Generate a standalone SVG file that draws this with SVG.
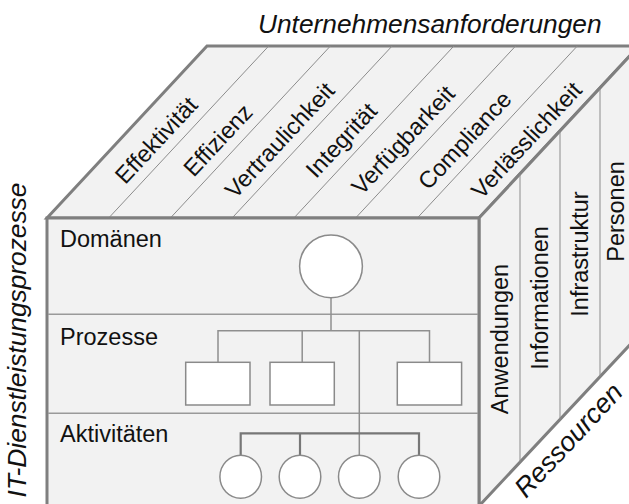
<svg xmlns="http://www.w3.org/2000/svg" width="629" height="504" viewBox="0 0 629 504">
  <style>
    .face { fill: #f2f2f2; stroke: #7f7f7f; stroke-width: 3; stroke-linejoin: miter; }
    .sep { fill: none; stroke: #8c8c8c; stroke-width: 1; }
    .div { fill: none; stroke: #9a9a9a; stroke-width: 1.5; }
    .node { fill: #ffffff; stroke: #8a8a8a; stroke-width: 1.5; }
    .link { fill: none; stroke: #8f8f8f; stroke-width: 1.5; }
    .link-strong { fill: none; stroke: #777777; stroke-width: 2.2; }
    text { font-family: "Liberation Sans", Arial, sans-serif; fill: #111111; }
    .lbl { font-size: 23.5px; }
    .axis { font-size: 26.3px; font-style: italic; }
  </style>

  <!-- axis captions -->
  <text class="axis" x="258" y="32.5">Unternehmensanforderungen</text>
  <text class="axis" text-anchor="middle" transform="translate(26,340) rotate(-90)">IT-Dienstleistungsprozesse</text>
  <text class="axis" style="font-size:27px" transform="translate(526,499) rotate(-47)">Ressourcen</text>

  <!-- top face: business requirements -->
  <g id="top-face">
    <polygon class="face" points="47,218 207,46 639,46 479,218"/>
    <g class="sep">
      <line x1="268.7" y1="46" x2="108.7" y2="218"/>
      <line x1="330.4" y1="46" x2="170.4" y2="218"/>
      <line x1="392.1" y1="46" x2="232.1" y2="218"/>
      <line x1="453.9" y1="46" x2="293.9" y2="218"/>
      <line x1="515.6" y1="46" x2="355.6" y2="218"/>
      <line x1="577.3" y1="46" x2="417.3" y2="218"/>
    </g>
    <g class="lbl" text-anchor="middle">
      <text transform="translate(156,140) rotate(-47)" dy="8.4">Effektivität</text>
      <text transform="translate(217.7,140) rotate(-47)" dy="8.4">Effizienz</text>
      <text transform="translate(279.4,140) rotate(-47)" dy="8.4">Vertraulichkeit</text>
      <text transform="translate(341.1,140) rotate(-47)" dy="8.4">Integrität</text>
      <text transform="translate(402.8,140) rotate(-47)" dy="8.4">Verfügbarkeit</text>
      <text transform="translate(464.5,140) rotate(-47)" dy="8.4">Compliance</text>
      <text transform="translate(526.2,140) rotate(-47)" dy="8.4">Verlässlichkeit</text>
    </g>
  </g>

  <!-- right face: resources -->
  <g id="right-face">
    <polygon class="face" points="479,218 639,46 639,335 479,506"/>
    <g class="sep">
      <line x1="520" y1="174.2" x2="520" y2="462.2"/>
      <line x1="560" y1="131.4" x2="560" y2="419.4"/>
      <line x1="600" y1="88.7" x2="600" y2="376.7"/>
    </g>
    <g class="lbl" text-anchor="middle">
      <text transform="translate(500,339) rotate(-90)" dy="8.4">Anwendungen</text>
      <text transform="translate(540,298) rotate(-90)" dy="8.4">Informationen</text>
      <text transform="translate(580,254) rotate(-90)" dy="8.4">Infrastruktur</text>
      <text transform="translate(615.5,211.5) rotate(-90)" dy="8.4">Personen</text>
    </g>
  </g>

  <!-- front face: service process levels -->
  <g id="front-face">
    <rect class="face" x="47" y="218" width="432" height="288"/>
    <line class="div" x1="48" y1="314.3" x2="478" y2="314.3"/>
    <line class="div" x1="48" y1="413.3" x2="478" y2="413.3"/>
    <text class="lbl" x="60" y="246.7">Domänen</text>
    <text class="lbl" x="60" y="345">Prozesse</text>
    <text class="lbl" x="60" y="441.7">Aktivitäten</text>
  </g>

  <!-- hierarchy connectors -->
  <g id="connectors">
    <line class="link" x1="331" y1="297.5" x2="331" y2="330.7"/>
    <polyline class="link" points="218,362.3 218,330.7 429.5,330.7 429.5,362.3"/>
    <line class="link" x1="302.2" y1="330.7" x2="302.2" y2="362.3"/>
    <line class="link" x1="359.3" y1="330.7" x2="359.3" y2="455.7"/>
    <polyline class="link-strong" points="240.7,455.7 240.7,433.3 419,433.3 419,455.7"/>
    <line class="link-strong" x1="300" y1="433.3" x2="300" y2="455.7"/>
  </g>

  <!-- domain -->
  <g id="domain">
    <circle class="node" cx="331" cy="266.3" r="31.4"/>
  </g>

  <!-- processes -->
  <g id="process-1"><rect class="node" x="185.7" y="362.3" width="64.3" height="42.7"/></g>
  <g id="process-2"><rect class="node" x="270" y="362.3" width="64.3" height="42.7"/></g>
  <g id="process-3"><rect class="node" x="397.3" y="362.3" width="64.3" height="42.7"/></g>

  <!-- activities -->
  <g id="activity-1"><ellipse class="node" cx="240.7" cy="476.7" rx="20.8" ry="21.5"/></g>
  <g id="activity-2"><ellipse class="node" cx="300" cy="476.7" rx="20.8" ry="21.5"/></g>
  <g id="activity-3"><ellipse class="node" cx="359.3" cy="476.7" rx="20.8" ry="21.5"/></g>
  <g id="activity-4"><ellipse class="node" cx="419" cy="476.7" rx="20.8" ry="21.5"/></g>
</svg>
